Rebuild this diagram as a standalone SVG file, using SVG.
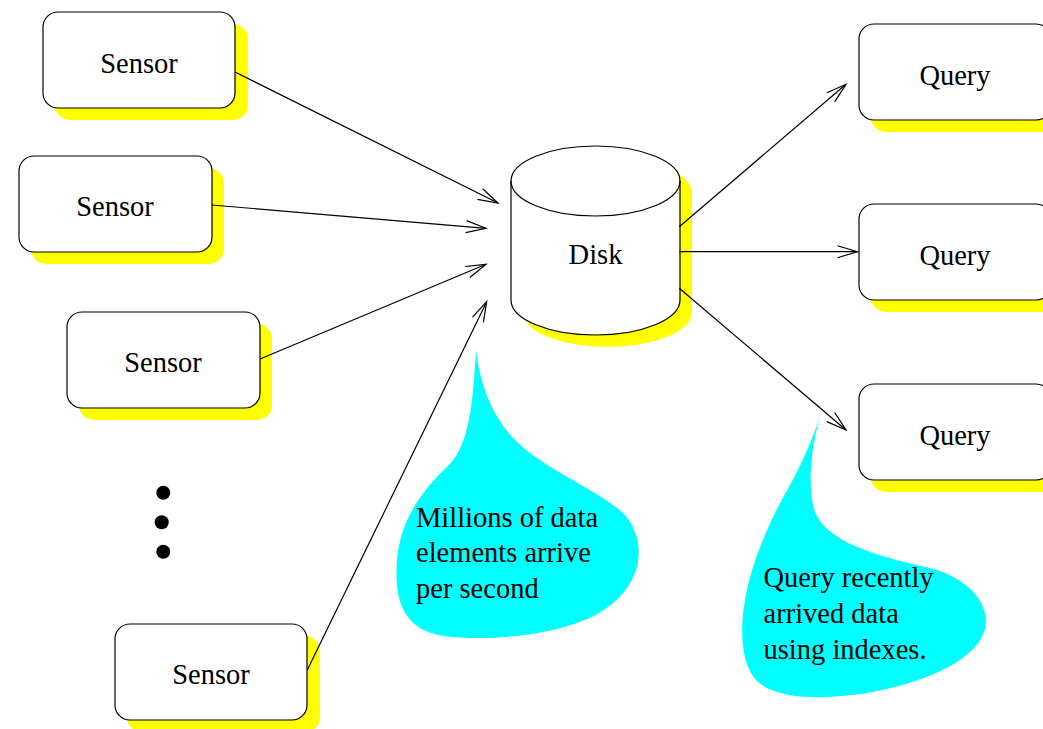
<svg xmlns="http://www.w3.org/2000/svg" width="1043" height="729" viewBox="0 0 1043 729">
  <style>
    .shadow { fill: #ffff00; stroke: none; }
    .box { fill: #ffffff; stroke: #000000; stroke-width: 1.2; }
    .label { font-family: "Liberation Serif", "Times New Roman", serif; font-size: 28.5px; fill: #000000; }
    .mid { text-anchor: middle; }
    .edge { fill: none; stroke: #000000; stroke-width: 1.2; marker-end: url(#open-arrow); }
    .note { fill: #00ffff; stroke: none; }
  </style>
  <defs>
    <marker id="open-arrow" markerUnits="userSpaceOnUse" markerWidth="24" markerHeight="16" refX="0" refY="0" viewBox="-22 -8 24 16" orient="auto">
      <path d="M -20 -6 L 0 0 L -20 6" fill="none" stroke="#000000" stroke-width="1.2"/>
    </marker>
  </defs>

  <rect width="1043" height="729" fill="#ffffff"/>

  <!-- sensors -->
  <g id="sensor-1">
    <rect class="shadow" x="55" y="24" width="193" height="96" rx="15"/>
    <rect class="box" x="43" y="12" width="192" height="96" rx="15"/>
    <text class="label mid" x="139" y="72.5">Sensor</text>
  </g>
  <g id="sensor-2">
    <rect class="shadow" x="31" y="168" width="193" height="96" rx="15"/>
    <rect class="box" x="19" y="156" width="193" height="96" rx="15"/>
    <text class="label mid" x="115" y="216">Sensor</text>
  </g>
  <g id="sensor-3">
    <rect class="shadow" x="79" y="324" width="193" height="96" rx="15"/>
    <rect class="box" x="67" y="312" width="193" height="96" rx="15"/>
    <text class="label mid" x="163" y="371.5">Sensor</text>
  </g>
  <g id="ellipsis">
    <circle cx="163.3" cy="492.7" r="7"/>
    <circle cx="161.7" cy="522.3" r="7"/>
    <circle cx="163.3" cy="551.7" r="7"/>
  </g>
  <g id="sensor-4">
    <rect class="shadow" x="127" y="636" width="193" height="96" rx="15"/>
    <rect class="box" x="115" y="624" width="192" height="96" rx="15"/>
    <text class="label mid" x="211" y="683.5">Sensor</text>
  </g>

  <!-- disk -->
  <g id="disk">
    <path class="shadow" d="M 523 193 A 84.5 35 0 0 1 692 193 L 692 312 A 84.5 35 0 0 1 523 312 Z"/>
    <path class="box" d="M 511 181 A 84.5 35 0 0 1 680 181 L 680 300 A 84.5 35 0 0 1 511 300 Z"/>
    <path fill="none" stroke="#000000" stroke-width="1.2" d="M 511 181 A 84.5 35 0 0 0 680 181"/>
    <text class="label mid" x="595.5" y="263.5">Disk</text>
  </g>

  <!-- queries -->
  <g id="query-1">
    <rect class="shadow" x="871" y="36" width="192" height="96" rx="15"/>
    <rect class="box" x="859" y="24" width="192" height="96" rx="15"/>
    <text class="label mid" x="955" y="85">Query</text>
  </g>
  <g id="query-2">
    <rect class="shadow" x="871" y="216" width="192" height="96" rx="15"/>
    <rect class="box" x="859" y="204" width="192" height="96" rx="15"/>
    <text class="label mid" x="955" y="265">Query</text>
  </g>
  <g id="query-3">
    <rect class="shadow" x="871" y="396" width="192" height="96" rx="15"/>
    <rect class="box" x="859" y="384" width="192" height="96" rx="15"/>
    <text class="label mid" x="955" y="445">Query</text>
  </g>

  <!-- connectors -->
  <g id="connectors">
    <line class="edge" x1="235" y1="72" x2="498" y2="203"/>
    <line class="edge" x1="212" y1="205" x2="486" y2="228.3"/>
    <line class="edge" x1="260" y1="359" x2="486" y2="264.3"/>
    <line class="edge" x1="307.3" y1="670" x2="486.7" y2="301.7"/>
    <line class="edge" x1="679.3" y1="226.7" x2="846" y2="84.3"/>
    <line class="edge" x1="679.3" y1="251.7" x2="857.5" y2="251.7"/>
    <line class="edge" x1="679.3" y1="288.3" x2="846" y2="430"/>
  </g>

  <!-- callouts -->
  <g id="note-arrivals">
    <path class="note" d="M 476 350 C 480 385, 492 415, 512 437 C 540 468, 600 490, 625 515 C 650 545, 642 592, 592 617 C 552 635, 492 642, 444 636 C 402 630, 394 598, 397 560 C 400 522, 420 492, 448 466 C 470 445, 473 400, 476 350 Z"/>
    <text class="label" x="416" y="526.5">Millions of data</text>
    <text class="label" x="416" y="562">elements arrive</text>
    <text class="label" x="416" y="598">per second</text>
  </g>
  <g id="note-indexes">
    <path class="note" d="M 822 411 C 812 440, 806 485, 815 512 C 826 540, 870 555, 930 568 C 975 580, 992 610, 984 632 C 974 662, 920 685, 860 694 C 820 699, 780 700, 758 682 C 740 665, 740 628, 745 600 C 752 560, 770 520, 790 485 C 805 458, 815 432, 822 411 Z"/>
    <text class="label" x="763.5" y="587">Query recently</text>
    <text class="label" x="763.5" y="623">arrived data</text>
    <text class="label" x="763.5" y="658.5">using indexes.</text>
  </g>
</svg>
